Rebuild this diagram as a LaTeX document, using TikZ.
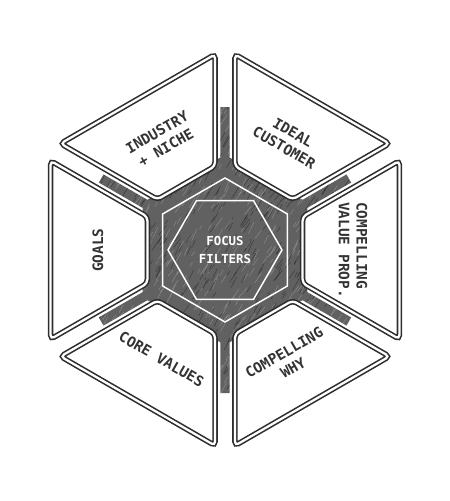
\documentclass[tikz,border=0pt]{standalone}
\usepackage{fontspec}
\newfontfamily\labelfont{DejaVu Sans Mono Bold}
\usetikzlibrary{calc}
\begin{document}
\begin{tikzpicture}[x=0.75pt,y=0.75pt,
  sector/.style={draw=black!82, line width=1.2pt, double=white, double distance=1.7pt, fill=white, rounded corners=3pt},
  lbl/.style={font=\labelfont\fontsize{10.8}{13.2}\selectfont, text=black!80, align=center, inner sep=0pt},
  whiteline/.style={draw=white, line width=1.1pt}]
\useasboundingbox (-225,-251) rectangle (225,250);
% dark hatched core with spokes
\begin{scope}
\clip (90:95) -- (150:95) -- (210:95) -- (270:95) -- (330:95) -- (30:95) -- cycle
  \foreach \a in {90,150,210,270,330,30} { (\a+90:-4.7) -- ([shift={(\a+90:-4.7)}]\a:143) -- ([shift={(\a+90:4.7)}]\a:143) -- (\a+90:4.7) -- cycle };
\fill[black!62] (-150,-150) rectangle (150,150);
\pgfmathsetseed{12}
\foreach \i in {1,...,1500} {
  \pgfmathsetmacro\px{150*rand}
  \pgfmathsetmacro\py{150*rand}
  \pgfmathsetmacro\len{4+10*rnd}
  \pgfmathsetmacro\ang{58+8*rand}
  \pgfmathtruncatemacro\shade{rnd>0.5 ? 35 : 88}
  \draw[black!\shade, line width=0.4pt, opacity=0.55] (\px,\py) -- ++(\ang:\len);
}
\end{scope}
% white outlines in the core
\draw[whiteline] (90:72) \foreach \a in {150,210,270,330,30} { -- (\a:72) } -- cycle;
\draw[whiteline] (0:57) \foreach \a in {60,120,180,240,300} { -- (\a:57) } -- cycle;
% six sectors
\foreach \r in {0,60,120,180,240,300} {
  \draw[sector, rotate=\r] (77.6,-33.3) -- (174.4,-89.2) -- (174.4,89.2) -- (77.6,33.3) -- cycle;
}
% labels
\node[lbl, font=\labelfont\fontsize{9.3}{13.5}\selectfont, text=white] (focus) at (0,0) {FOCUS\\FILTERS};
\node[lbl, rotate=30] (industry) at (-63.5,110) {INDUSTRY\\+ NICHE};
\node[lbl, rotate=-30] (ideal) at (63.5,110) {IDEAL\\CUSTOMER};
\node[lbl, rotate=-90, align=left] (value) at (128,0) {COMPELLING\\VALUE PROP.};
\node[lbl, rotate=90] (goals) at (-127,0) {GOALS};
\node[lbl, rotate=-30] (core) at (-63.5,-109) {CORE VALUES};
\node[lbl, rotate=30] (why) at (63.5,-110) {COMPELLING\\WHY};
\end{tikzpicture}
\end{document}
